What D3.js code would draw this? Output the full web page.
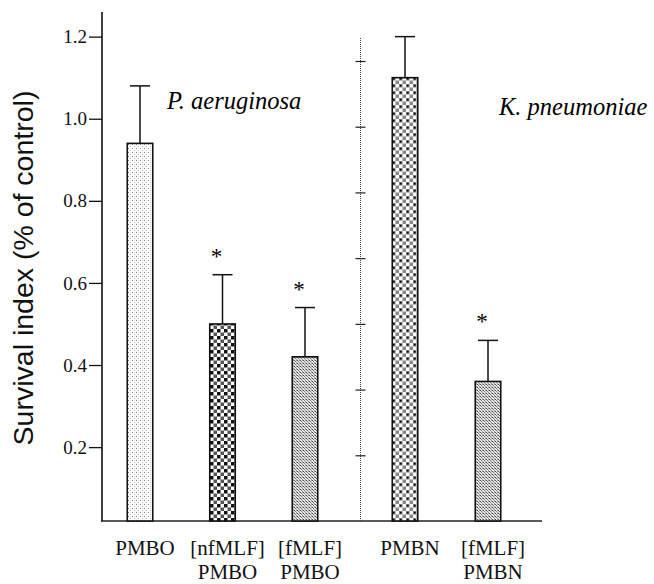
<!DOCTYPE html>
<html>
  <head>
    <script src="https://d3js.org/d3.v7.min.js"></script>
    <style>
      body { margin: 0; background: #fff; }
      .serif { font-family: "Liberation Serif", "Times New Roman", Tinos, "DejaVu Serif", serif; }
      .sans { font-family: "Liberation Sans", Arial, Helvetica, sans-serif; }
    </style>
  </head>
  <body>
    <svg id="chart"></svg>
    <script>
      // data
      var leftCats = ["PMBO", "nfMLF-PMBO", "fMLF-PMBO"];
      var leftMeans = [0.94, 0.50, 0.42];
      var leftErrors = [0.14, 0.12, 0.12];
      var leftStars = [false, true, true];
      var leftLabels = [["PMBO"], ["[nfMLF]", "PMBO"], ["[fMLF]", "PMBO"]];
      var leftFills = ["stipple", "checkDark", "fineMesh"];

      var rightCats = ["PMBN", "fMLF-PMBN"];
      var rightMeans = [1.10, 0.36];
      var rightErrors = [0.10, 0.10];
      var rightStars = [false, true];
      var rightLabels = [["PMBN"], ["[fMLF]", "PMBN"]];
      var rightFills = ["checkGray", "fineMesh"];

      var yTicks = [0.2, 0.4, 0.6, 0.8, 1.0, 1.2];
      var dividerTicks = [0.2, 0.4, 0.6, 0.8, 1.0, 1.2, 1.4];

      var width = 654, height = 584;
      var svg = d3.select("#chart").attr("width", width).attr("height", height);

      // patterns for the bar fills
      var defs = svg.append("defs");
      var p = defs.append("pattern").attr("id", "stipple")
        .attr("patternUnits", "userSpaceOnUse").attr("width", 4).attr("height", 4);
      p.append("rect").attr("width", 4).attr("height", 4).attr("fill", "#fff");
      p.append("rect").attr("x", 0).attr("y", 0).attr("width", 1).attr("height", 1).attr("fill", "#888");
      p.append("rect").attr("x", 2).attr("y", 2).attr("width", 1).attr("height", 1).attr("fill", "#bbb");
      p.append("rect").attr("x", 2).attr("y", 0).attr("width", 1).attr("height", 1).attr("fill", "#e0e0e0");

      p = defs.append("pattern").attr("id", "checkDark")
        .attr("patternUnits", "userSpaceOnUse").attr("width", 7).attr("height", 7);
      p.append("rect").attr("width", 7).attr("height", 7).attr("fill", "#fff");
      p.append("rect").attr("x", 0).attr("y", 0).attr("width", 3.5).attr("height", 3.5).attr("fill", "#111");
      p.append("rect").attr("x", 3.5).attr("y", 3.5).attr("width", 3.5).attr("height", 3.5).attr("fill", "#555");

      p = defs.append("pattern").attr("id", "fineMesh")
        .attr("patternUnits", "userSpaceOnUse").attr("width", 3).attr("height", 3);
      p.append("rect").attr("width", 3).attr("height", 3).attr("fill", "#e6e6e6");
      p.append("rect").attr("x", 0).attr("y", 0).attr("width", 1).attr("height", 1).attr("fill", "#444");
      p.append("rect").attr("x", 1).attr("y", 1).attr("width", 1).attr("height", 1).attr("fill", "#777");
      p.append("rect").attr("x", 2).attr("y", 2).attr("width", 1).attr("height", 1).attr("fill", "#999");
      p.append("rect").attr("x", 2).attr("y", 0).attr("width", 1).attr("height", 1).attr("fill", "#aaa");

      p = defs.append("pattern").attr("id", "checkGray")
        .attr("patternUnits", "userSpaceOnUse").attr("width", 7).attr("height", 7);
      p.append("rect").attr("width", 7).attr("height", 7).attr("fill", "#fff");
      p.append("rect").attr("x", 0).attr("y", 0).attr("width", 3.5).attr("height", 3.5).attr("fill", "#777");
      p.append("rect").attr("x", 3.5).attr("y", 3.5).attr("width", 3.5).attr("height", 3.5).attr("fill", "#888");
      p.append("rect").attr("x", 1).attr("y", 1).attr("width", 1.5).attr("height", 1.5).attr("fill", "#000");

      // scales
      var y = d3.scaleLinear().domain([0.02, 1.26]).range([521, 12]);
      var yDivider = d3.scaleLinear().domain([0, 1.47]).range([521, 38]);
      var xLeft = d3.scalePoint().domain(leftCats).range([140, 305]);
      var xRight = d3.scalePoint().domain(rightCats).range([405, 488]);
      var barW = 25.5;

      var rows = leftCats.map(function (c, i) {
        return { x: xLeft(c), mean: leftMeans[i], err: leftErrors[i], star: leftStars[i], lines: leftLabels[i], fill: leftFills[i] };
      }).concat(rightCats.map(function (c, i) {
        return { x: xRight(c), mean: rightMeans[i], err: rightErrors[i], star: rightStars[i], lines: rightLabels[i], fill: rightFills[i] };
      }));

      // y axis
      var yAxis = svg.append("g")
        .attr("transform", "translate(102,0)")
        .call(d3.axisLeft(y).tickValues(yTicks).tickSize(13).tickFormat(d3.format(".1f")));
      yAxis.select(".domain").remove();
      yAxis.attr("font-family", null).attr("font-size", null);
      yAxis.selectAll("line").attr("stroke", "#111").attr("stroke-width", 1.3);
      yAxis.selectAll("text")
        .attr("x", -15)
        .attr("class", "serif")
        .style("font-size", "19px")
        .attr("fill", "#111");
      svg.append("line")
        .attr("x1", 102).attr("x2", 102)
        .attr("y1", 12).attr("y2", 521.5)
        .attr("stroke", "#111").attr("stroke-width", 1.6);

      // x axis baseline
      svg.append("line")
        .attr("x1", 101).attr("x2", 542)
        .attr("y1", y(0.02)).attr("y2", y(0.02))
        .attr("stroke", "#222").attr("stroke-width", 1.4);

      // dotted divider between panels, with ticks crossing it
      svg.append("line")
        .attr("x1", 360.5).attr("x2", 360.5)
        .attr("y1", yDivider(1.47)).attr("y2", yDivider(0))
        .attr("stroke", "#444").attr("stroke-width", 1)
        .attr("stroke-dasharray", "1,1");
      var divAxis = svg.append("g")
        .attr("transform", "translate(365.5,0)")
        .call(d3.axisLeft(yDivider).tickValues(dividerTicks).tickSize(10).tickFormat(""));
      divAxis.select(".domain").remove();
      divAxis.selectAll("line").attr("stroke", "#222").attr("stroke-width", 1.2);

      // bars
      svg.selectAll("rect.bar")
        .data(rows)
        .enter()
        .append("rect")
        .attr("class", "bar")
        .attr("x", function (d) { return d.x - barW / 2; })
        .attr("y", function (d) { return y(d.mean); })
        .attr("width", barW)
        .attr("height", function (d) { return y(0.02) - y(d.mean); })
        .attr("fill", function (d) { return "url(#" + d.fill + ")"; })
        .attr("stroke", "#111")
        .attr("stroke-width", 1.6);

      // error bars (upper only)
      svg.selectAll("line.err")
        .data(rows)
        .enter()
        .append("line")
        .attr("class", "err")
        .attr("x1", function (d) { return d.x; })
        .attr("x2", function (d) { return d.x; })
        .attr("y1", function (d) { return y(d.mean); })
        .attr("y2", function (d) { return y(d.mean + d.err); })
        .attr("stroke", "#111").attr("stroke-width", 1.5);
      svg.selectAll("line.cap")
        .data(rows)
        .enter()
        .append("line")
        .attr("class", "cap")
        .attr("x1", function (d) { return d.x - 10; })
        .attr("x2", function (d) { return d.x + 10; })
        .attr("y1", function (d) { return y(d.mean + d.err); })
        .attr("y2", function (d) { return y(d.mean + d.err); })
        .attr("stroke", "#111").attr("stroke-width", 1.5);

      // significance stars
      svg.selectAll("text.star")
        .data(rows.filter(function (d) { return d.star; }))
        .enter()
        .append("text")
        .attr("class", "star serif")
        .attr("x", function (d) { return d.x - 6; })
        .attr("y", function (d) { return y(d.mean + d.err) - 11; })
        .attr("text-anchor", "middle")
        .style("font-size", "23px")
        .text("*");

      // category labels
      var lab = svg.selectAll("text.cat")
        .data(rows)
        .enter()
        .append("text")
        .attr("class", "cat serif")
        .attr("text-anchor", "middle")
        .style("font-size", "21px")
        .attr("fill", "#111");
      lab.selectAll("tspan")
        .data(function (d) { return d.lines.map(function (t) { return { t: t, x: d.x + 5 }; }); })
        .enter()
        .append("tspan")
        .attr("x", function (d) { return d.x; })
        .attr("y", function (d, i) { return 555 + i * 23.5; })
        .text(function (d) { return d.t; });

      // panel titles
      svg.append("text")
        .attr("class", "serif")
        .attr("x", 167).attr("y", 109)
        .style("font-style", "italic")
        .style("font-size", "24.5px")
        .text("P. aeruginosa");
      svg.append("text")
        .attr("class", "serif")
        .attr("x", 499).attr("y", 115)
        .style("font-style", "italic")
        .style("font-size", "24.5px")
        .text("K. pneumoniae");

      // y axis title
      svg.append("text")
        .attr("class", "sans")
        .attr("transform", "translate(33,268) rotate(-90)")
        .attr("text-anchor", "middle")
        .style("font-size", "28.5px")
        .attr("fill", "#111")
        .text("Survival index (% of control)");
    </script>
  </body>
</html>
